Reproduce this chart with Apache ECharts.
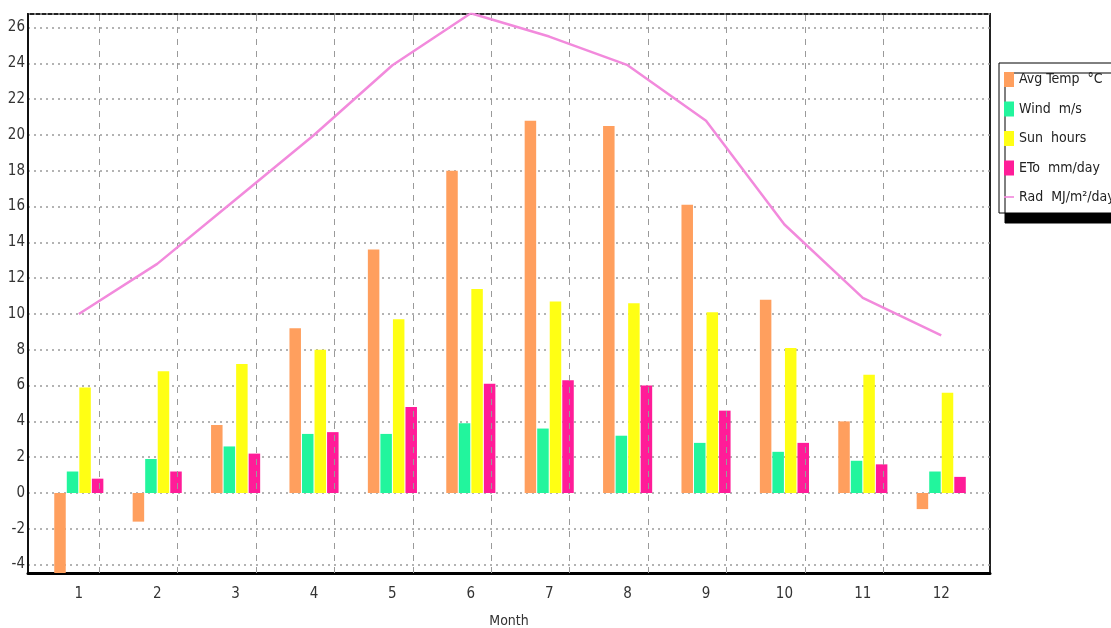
<!DOCTYPE html>
<html>
<head>
<meta charset="utf-8">
<script src="https://cdn.jsdelivr.net/npm/echarts@6/dist/echarts.min.js"></script>
<style>
html,body{margin:0;padding:0;background:#fff;}
#chart{width:1111px;height:628px;}
</style>
</head>
<body>
<div id="chart"></div>
<script>
// ---- data ----
const months = [1, 2, 3, 4, 5, 6, 7, 8, 9, 10, 11, 12];
const avgTemp = [-4.6, -1.6, 3.8, 9.2, 13.6, 18.0, 20.8, 20.5, 16.1, 10.8, 4.0, -0.9];
const wind = [1.2, 1.9, 2.6, 3.3, 3.3, 3.9, 3.6, 3.2, 2.8, 2.3, 1.8, 1.2];
const sunHours = [5.9, 6.8, 7.2, 8.0, 9.7, 11.4, 10.7, 10.6, 10.1, 8.1, 6.6, 5.6];
const eto = [0.8, 1.2, 2.2, 3.4, 4.8, 6.1, 6.3, 6.0, 4.6, 2.8, 1.6, 0.9];
const rad = [10.0, 12.8, 16.4, 20.0, 23.9, 26.8, 25.5, 23.9, 20.8, 15.0, 10.9, 8.8];
const seriesNames = ['Avg Temp  \u00B0C', 'Wind  m/s', 'Sun  hours', 'ETo  mm/day', 'Rad  MJ/m\u00B2/day'];
const yTickLabels = [-4, -2, 0, 2, 4, 6, 8, 10, 12, 14, 16, 18, 20, 22, 24, 26];

const FONT = "'DejaVu Sans Condensed', 'Liberation Sans Narrow', sans-serif";
const colors = ['#FF9F5E', '#22F59D', '#FFFF14', '#FF1C98', '#F28ADC'];
const boundaries = months.slice(0, -1).map(m => m + 0.5);
const pairs = arr => months.map((m, i) => [m, arr[i]]);
const isInt = v => Math.abs(v - Math.round(v)) < 1e-6;

const barCommon = {type: 'bar', barWidth: 11.5, barGap: '9%', clip: true};

const chart = echarts.init(document.getElementById('chart'), null, {renderer: 'canvas'});
chart.setOption({
  animation: false,
  backgroundColor: '#ffffff',
  color: colors,
  grid: {left: 28, right: 121, top: 14, bottom: 55, show: true, containLabel: false,
         outerBoundsMode: 'none',
         borderColor: '#222', borderWidth: 2, backgroundColor: '#fff'},
  legend: {
    orient: 'vertical', left: 999, top: 63,
    padding: [9, 40, 9, 5], itemGap: 14.5, itemWidth: 10, itemHeight: 15,
    backgroundColor: '#fff', borderColor: '#000', borderWidth: 1,
    shadowColor: '#000', shadowBlur: 0, shadowOffsetX: 6, shadowOffsetY: 10,
    textStyle: {fontFamily: FONT, fontSize: 14, color: '#222'},
    data: seriesNames.map((n, i) => ({
      name: n,
      icon: i < 4 ? 'rect' : 'path://M0,0 L12,0 L12,2 L0,2 Z',
      itemStyle: i < 4 ? undefined : {color: colors[4]}
    }))
  },
  xAxis: {
    type: 'value', min: 0.352, max: 12.622, splitNumber: 12,
    name: 'Month', nameLocation: 'middle', nameGap: 41,
    nameTextStyle: {fontFamily: FONT, fontSize: 14, color: '#333'},
    axisLine: {show: true, onZero: false, lineStyle: {color: '#000', width: 3}},
    axisTick: {show: false},
    splitLine: {show: false},
    axisLabel: {
      margin: 14, fontFamily: FONT, fontSize: 15, color: '#333',
      showMinLabel: false, showMaxLabel: false,
      formatter: v => (isInt(v) && months.indexOf(Math.round(v)) >= 0) ? String(Math.round(v)) : ''
    }
  },
  yAxis: {
    type: 'value', min: -4.47, max: 26.76, splitNumber: 15,
    axisLine: {show: true, onZero: false, lineStyle: {color: '#111', width: 2}},
    axisTick: {show: false},
    splitLine: {show: true, lineStyle: {color: '#9a9a9a', width: 1.5, type: [2, 4]}},
    axisLabel: {
      margin: 3, fontFamily: FONT, fontSize: 15, color: '#333',
      showMinLabel: false, showMaxLabel: false,
      formatter: v => yTickLabels.indexOf(Math.round(v)) >= 0 && isInt(v) ? String(Math.round(v)) : ''
    }
  },
  series: [
    Object.assign({}, barCommon, {
      name: seriesNames[0], data: pairs(avgTemp),
      markLine: {
        silent: true, symbol: 'none', label: {show: false},
        lineStyle: {color: '#9a9a9a', width: 1, type: [6, 6]},
        data: boundaries.map(b => ({xAxis: b}))
      }
    }),
    Object.assign({}, barCommon, {name: seriesNames[1], data: pairs(wind)}),
    Object.assign({}, barCommon, {name: seriesNames[2], data: pairs(sunHours)}),
    Object.assign({}, barCommon, {name: seriesNames[3], data: pairs(eto)}),
    {type: 'line', name: seriesNames[4], data: pairs(rad), symbol: 'none',
     lineStyle: {width: 2.5, color: colors[4]}, z: 5}
  ]
});
</script>
</body>
</html>
